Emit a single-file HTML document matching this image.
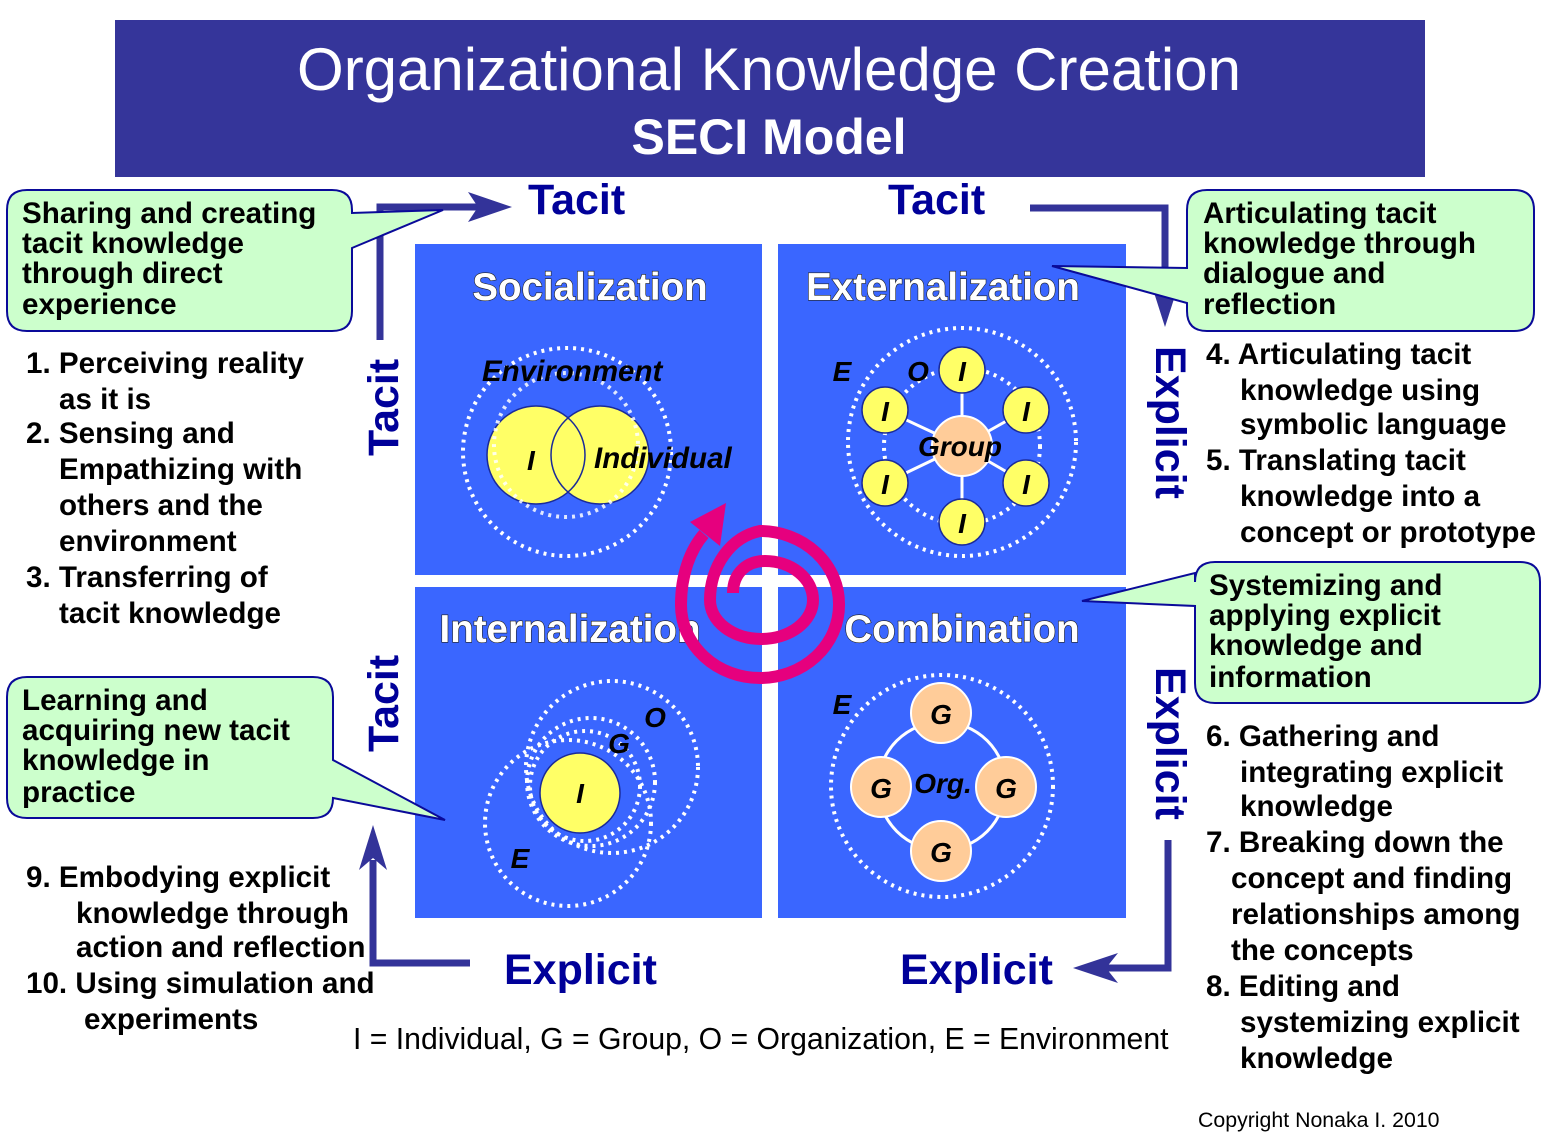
<!DOCTYPE html>
<html><head><meta charset="utf-8"><style>
html,body{margin:0;padding:0;background:#fff}
svg{display:block}
text{font-family:"Liberation Sans",Arial,sans-serif}
.b{font-weight:bold}
.lst{font-weight:bold;font-size:29.6px;fill:#000}
.co{font-weight:bold;font-size:29.6px;fill:#000}
.qt{font-weight:bold;font-size:38.5px;fill:#fff;stroke:#222;stroke-width:1.2;paint-order:stroke}
.tx{font-weight:bold;font-size:43px;fill:#000099}
.it{font-weight:bold;font-style:italic;fill:#000}
.dot{fill:none;stroke:#fff;stroke-width:4;stroke-dasharray:3 5}
</style></head><body>
<svg width="1542" height="1144" viewBox="0 0 1542 1144" xmlns="http://www.w3.org/2000/svg">
<rect x="115" y="20" width="1310" height="157" fill="#35359a"/>
<text x="769" y="90" text-anchor="middle" font-size="60" fill="#fff">Organizational Knowledge Creation</text>
<text x="769" y="154" text-anchor="middle" font-size="50" class="b" fill="#fff">SECI Model</text>

<rect x="415" y="244" width="347" height="331" fill="#3a66ff"/>
<rect x="778" y="244" width="348" height="331" fill="#3a66ff"/>
<rect x="415" y="587" width="347" height="331" fill="#3a66ff"/>
<rect x="778" y="587" width="348" height="331" fill="#3a66ff"/>

<g stroke="#333399" stroke-width="7" fill="none">
<polyline points="380,340 380,207 480,207"/>
<polyline points="1030,208 1165,208 1165,305"/>
<polyline points="1168,840 1168,968 1105,968"/>
<polyline points="470,963 373,963 373,860"/>
</g>
<g fill="#333399">
<polygon points="512,207 468,192 478,207 468,222"/>
<polygon points="1165,327 1150,280 1165,292 1180,280"/>
<polygon points="1073,968 1118,953 1106,968 1118,983"/>
<polygon points="373,825 359,870 373,858 387,870"/>
</g>

<g fill="#ccffcc" stroke="#0a0a99" stroke-width="2">
<path d="M27,190 H332 Q352,190 352,210 V213 L443,210 L352,248 V311 Q352,331 332,331 H27 Q7,331 7,311 V210 Q7,190 27,190 Z"/>
<path d="M1207,190 H1514 Q1534,190 1534,210 V311 Q1534,331 1514,331 H1207 Q1187,331 1187,311 V303 L1052,266 L1187,268 V210 Q1187,190 1207,190 Z"/>
<path d="M1215,562 H1520 Q1540,562 1540,582 V683 Q1540,703 1520,703 H1215 Q1195,703 1195,683 V606 L1082,601 L1195,573 V582 Q1195,562 1215,562 Z"/>
<path d="M27,677 H313 Q333,677 333,697 V760 L445,820 L333,798 Q333,818 313,818 H27 Q7,818 7,798 V697 Q7,677 27,677 Z"/>
</g>
<g class="co">
<text x="22" y="223">Sharing and creating</text>
<text x="22" y="253">tacit knowledge</text>
<text x="22" y="283">through direct</text>
<text x="22" y="314">experience</text>
<text x="1203" y="223">Articulating  tacit</text>
<text x="1203" y="253">knowledge through</text>
<text x="1203" y="283">dialogue and</text>
<text x="1203" y="314">reflection</text>
<text x="1209" y="595">Systemizing and</text>
<text x="1209" y="625">applying  explicit</text>
<text x="1209" y="655">knowledge and</text>
<text x="1209" y="687">information</text>
<text x="22" y="710">Learning and</text>
<text x="22" y="740">acquiring  new tacit</text>
<text x="22" y="770">knowledge in</text>
<text x="22" y="802">practice</text>
</g>

<g class="lst">
<text x="26" y="373">1. Perceiving reality</text>
<text x="59" y="409">as it is</text>
<text x="26" y="443">2. Sensing and</text>
<text x="59" y="479">Empathizing with</text>
<text x="59" y="515">others and the</text>
<text x="59" y="551">environment</text>
<text x="26" y="587">3. Transferring of</text>
<text x="59" y="623">tacit knowledge</text>
<text x="1206" y="364">4. Articulating tacit</text>
<text x="1240" y="400">knowledge using</text>
<text x="1240" y="434">symbolic language</text>
<text x="1206" y="470">5. Translating tacit</text>
<text x="1240" y="506">knowledge into a</text>
<text x="1240" y="542">concept or prototype</text>
<text x="1206" y="746">6. Gathering and</text>
<text x="1240" y="782">integrating explicit</text>
<text x="1240" y="816">knowledge</text>
<text x="1206" y="852">7. Breaking down the</text>
<text x="1231" y="888">concept and finding</text>
<text x="1231" y="924">relationships among</text>
<text x="1231" y="960">the concepts</text>
<text x="1206" y="996">8. Editing and</text>
<text x="1240" y="1032">systemizing explicit</text>
<text x="1240" y="1068">knowledge</text>
<text x="26" y="887">9. Embodying explicit</text>
<text x="76" y="923">knowledge through</text>
<text x="76" y="957">action and reflection</text>
<text x="26" y="993">10. Using simulation and</text>
<text x="84" y="1029">experiments</text>
</g>

<text class="tx" x="528" y="214">Tacit</text>
<text class="tx" x="888" y="214">Tacit</text>
<text class="tx" x="504" y="984">Explicit</text>
<text class="tx" x="900" y="984">Explicit</text>
<text class="tx" transform="translate(398,456) rotate(-90)">Tacit</text>
<text class="tx" transform="translate(398,752) rotate(-90)">Tacit</text>
<text class="tx" transform="translate(1156,346) rotate(90)">Explicit</text>
<text class="tx" transform="translate(1156,667) rotate(90)">Explicit</text>

<text x="353" y="1049" font-size="30.2" fill="#000">I  = Individual, G = Group, O = Organization, E = Environment</text>
<text x="1198" y="1127" font-size="21.3" fill="#000">Copyright Nonaka I. 2010</text>

<text class="qt" x="590" y="300" text-anchor="middle">Socialization</text>
<text class="qt" x="943" y="300" text-anchor="middle">Externalization</text>
<text class="qt" x="570" y="642" text-anchor="middle">Internalization</text>
<text class="qt" x="962" y="642" text-anchor="middle">Combination</text>

<!-- Socialization -->
<circle class="dot" cx="567" cy="452" r="104"/>
<circle cx="536" cy="455" r="49" fill="#ffff66"/>
<circle cx="600" cy="455" r="49" fill="#ffff66"/>
<circle cx="536" cy="455" r="49" fill="none" stroke="#1a2a99" stroke-width="1.5"/>
<circle cx="600" cy="455" r="49" fill="none" stroke="#1a2a99" stroke-width="1.5"/>
<circle class="dot" cx="566" cy="445" r="72" stroke-width="3" opacity="0.85"/>
<text class="it" x="482" y="381" font-size="29.5">Environment</text>
<text class="it" x="527" y="470" font-size="28">I</text>
<text class="it" x="594" y="468" font-size="29.5">Individual</text>

<!-- Externalization -->
<circle class="dot" cx="962" cy="442" r="114"/>
<circle class="dot" cx="962" cy="446" r="78" stroke-width="3"/>
<g stroke="#fff" stroke-width="3">
<line x1="962" y1="446" x2="962" y2="370"/><line x1="962" y1="446" x2="962" y2="522"/>
<line x1="962" y1="446" x2="885" y2="410"/><line x1="962" y1="446" x2="1026" y2="410"/>
<line x1="962" y1="446" x2="885" y2="483"/><line x1="962" y1="446" x2="1026" y2="483"/>
</g>
<circle cx="962" cy="446" r="30" fill="#ffcc99" stroke="#fff" stroke-width="2"/>
<g fill="#ffff66" stroke="#1a2a99" stroke-width="1.5">
<circle cx="962" cy="370" r="23"/><circle cx="962" cy="522" r="23"/>
<circle cx="885" cy="410" r="23"/><circle cx="1026" cy="410" r="23"/>
<circle cx="885" cy="483" r="23"/><circle cx="1026" cy="483" r="23"/>
</g>
<g class="it" font-size="28" text-anchor="middle">
<text x="962" y="381">I</text><text x="962" y="533">I</text>
<text x="885" y="421">I</text><text x="1026" y="421">I</text>
<text x="885" y="494">I</text><text x="1026" y="494">I</text>
<text x="960" y="456">Group</text>
<text x="918" y="381">O</text><text x="842" y="381">E</text>
</g>

<!-- Internalization -->
<circle class="dot" cx="568" cy="823" r="83"/>
<circle class="dot" cx="612" cy="767" r="86"/>
<circle class="dot" cx="591" cy="782" r="64"/>
<circle cx="580" cy="793" r="40" fill="#ffff66" stroke="#1a2a99" stroke-width="1.5"/>
<circle class="dot" cx="585" cy="786" r="55" stroke-width="3"/>
<g class="it" font-size="28" text-anchor="middle">
<text x="580" y="803">I</text><text x="619" y="753">G</text><text x="655" y="727">O</text><text x="520" y="868">E</text>
</g>

<!-- Combination -->
<circle class="dot" cx="942" cy="786" r="111"/>
<circle cx="942" cy="786" r="64" fill="none" stroke="#fff" stroke-width="3"/>
<g fill="#ffcc99" stroke="#fff" stroke-width="2">
<circle cx="941" cy="713" r="30"/><circle cx="941" cy="851" r="30"/>
<circle cx="881" cy="787" r="30"/><circle cx="1006" cy="787" r="30"/>
</g>
<g class="it" font-size="28" text-anchor="middle">
<text x="941" y="724">G</text><text x="941" y="862">G</text>
<text x="881" y="798">G</text><text x="1006" y="798">G</text>
<text x="943" y="793">Org.</text><text x="842" y="714">E</text>
</g>

<!-- spiral -->
<path d="M733,593 C733,572 748,561 765,561 A48,39 0 0 1 813,600 A52,39 0 0 1 761,639 A51,39 0 0 1 710,600 A60,70 0 0 1 760,531 A79,73 0 0 1 839,605 A79,73 0 0 1 760,678 A79,73 0 0 1 681,605 C681,575 690,550 704,534" fill="none" stroke="#e6007e" stroke-width="12"/>
<polygon points="726,503 690,522 720,546" fill="#e6007e"/>
</svg>
</body></html>
